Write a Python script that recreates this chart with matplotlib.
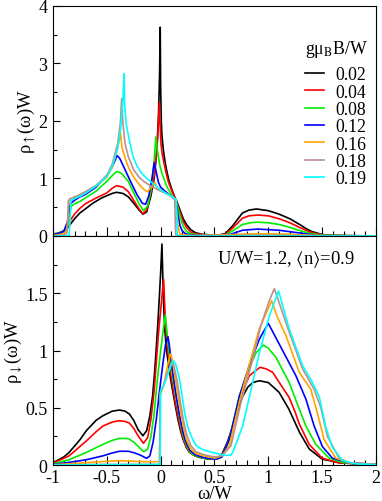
import matplotlib
matplotlib.use("Agg")
import matplotlib.pyplot as plt
from matplotlib.ticker import MultipleLocator, FuncFormatter

plt.rcParams['font.family'] = ['Liberation Serif', 'DejaVu Serif']
plt.rcParams['mathtext.fontset'] = 'stix'
plt.rcParams['axes.unicode_minus'] = False
plt.rcParams['font.size'] = 13

# field values (g mu_B B / W) and colours
fields = ['0.02', '0.04', '0.08', '0.12', '0.16', '0.18', '0.19']
colors = ['#000000', '#ff0000', '#00ee00', '#0000ff', '#ffa500', '#bc8f8f', '#00ffff']

# ---- spin up DOS (top panel) ----
up_002_w = [-1.0, -0.95, -0.9, -0.86, -0.84, -0.8, -0.75, -0.7, -0.63, -0.55, -0.5, -0.45, -0.41, -0.35, -0.3,
            -0.25, -0.2, -0.164, -0.13, -0.09, -0.06, -0.035, -0.02, -0.01, -0.004, 0.0, 0.006, 0.012, 0.025,
            0.04, 0.055, 0.075, 0.1, 0.13, 0.15, 0.17, 0.19, 0.21, 0.24, 0.28, 0.32, 0.38, 0.45, 0.55, 0.6,
            0.67, 0.76, 0.82, 0.89, 1.0, 1.1, 1.2, 1.3, 1.35, 1.4, 1.5, 1.6, 1.8, 2.0]
up_002_rho = [0.035, 0.05, 0.09, 0.15, 0.2, 0.3, 0.4, 0.47, 0.57, 0.66, 0.7, 0.74, 0.76, 0.74, 0.68,
              0.57, 0.45, 0.38, 0.42, 0.7, 1.0, 1.5, 2.1, 2.8, 3.63, 2.6, 2.0, 1.75, 1.5,
              1.3, 1.15, 0.98, 0.83, 0.68, 0.6, 0.5, 0.4, 0.3, 0.2, 0.11, 0.06, 0.03, 0.02, 0.02, 0.04,
              0.18, 0.4, 0.45, 0.47, 0.44, 0.38, 0.3, 0.19, 0.13, 0.08, 0.025, 0.012, 0.005, 0.0]

up_004_w = [-1.0, -0.95, -0.9, -0.86, -0.84, -0.8, -0.75, -0.7, -0.6, -0.5, -0.45, -0.41, -0.35, -0.3, -0.25,
            -0.2, -0.165, -0.13, -0.09, -0.06, -0.04, -0.025, -0.012, -0.005, 0.003, 0.015, 0.03, 0.05, 0.07,
            0.1, 0.13, 0.15, 0.17, 0.19, 0.21, 0.24, 0.28, 0.32, 0.4, 0.55, 0.6, 0.67, 0.76, 0.82, 0.9, 1.0,
            1.1, 1.2, 1.3, 1.4, 1.5, 1.7, 2.0]
up_004_rho = [0.025, 0.04, 0.08, 0.17, 0.27, 0.38, 0.48, 0.56, 0.66, 0.75, 0.83, 0.875, 0.85, 0.77, 0.62,
              0.47, 0.39, 0.45, 0.75, 1.05, 1.4, 1.8, 2.32, 1.95, 1.6, 1.42, 1.28, 1.1, 0.95,
              0.8, 0.67, 0.58, 0.46, 0.36, 0.25, 0.15, 0.07, 0.04, 0.02, 0.02, 0.03, 0.14, 0.31, 0.35, 0.365, 0.35,
              0.3, 0.23, 0.14, 0.06, 0.02, 0.005, 0.0]

up_008_w = [-1.0, -0.95, -0.9, -0.86, -0.845, -0.83, -0.8, -0.75, -0.7, -0.6, -0.5, -0.45, -0.41, -0.37, -0.3,
            -0.25, -0.2, -0.16, -0.12, -0.09, -0.06, -0.045, -0.03, -0.01, 0.01, 0.03, 0.06, 0.1, 0.13, 0.15,
            0.17, 0.19, 0.21, 0.24, 0.28, 0.35, 0.55, 0.6, 0.67, 0.76, 0.85, 0.9, 1.0, 1.1, 1.2, 1.3, 1.4, 1.5,
            1.7, 2.0]
up_008_rho = [0.02, 0.04, 0.08, 0.2, 0.4, 0.52, 0.56, 0.6, 0.66, 0.78, 0.95, 1.05, 1.12, 1.1, 0.95,
              0.75, 0.56, 0.44, 0.52, 0.8, 1.3, 1.72, 1.5, 1.25, 1.1, 1.0, 0.85, 0.72, 0.65, 0.55,
              0.42, 0.28, 0.17, 0.08, 0.04, 0.02, 0.015, 0.02, 0.09, 0.2, 0.235, 0.24, 0.23, 0.2, 0.15, 0.09, 0.04,
              0.015, 0.005, 0.0]

up_012_w = [-1.0, -0.95, -0.9, -0.865, -0.85, -0.84, -0.8, -0.75, -0.7, -0.6, -0.5, -0.45, -0.42, -0.405,
            -0.38, -0.33, -0.28, -0.22, -0.17, -0.14, -0.11, -0.08, -0.06, -0.045, -0.02, 0.0, 0.04, 0.1, 0.13,
            0.15, 0.165, 0.18, 0.2, 0.23, 0.28, 0.4, 0.55, 0.65, 0.76, 0.9, 1.1, 1.3, 1.45, 1.6, 2.0]
up_012_rho = [0.02, 0.04, 0.08, 0.25, 0.45, 0.56, 0.62, 0.68, 0.72, 0.85, 1.05, 1.2, 1.33, 1.4,
              1.35, 1.15, 0.95, 0.72, 0.57, 0.55, 0.7, 1.0, 1.28, 1.15, 0.93, 0.85, 0.78, 0.69, 0.64,
              0.5, 0.33, 0.18, 0.09, 0.04, 0.02, 0.015, 0.012, 0.03, 0.1, 0.12, 0.1, 0.05, 0.01, 0.003, 0.0]

up_016_w = [-1.0, -0.95, -0.9, -0.87, -0.86, -0.855, -0.84, -0.8, -0.75, -0.7, -0.6, -0.5, -0.45, -0.41,
            -0.385, -0.373, -0.36, -0.33, -0.3, -0.25, -0.2, -0.15, -0.12, -0.08, -0.055, -0.03, 0.0, 0.05,
            0.1, 0.13, 0.145, 0.16, 0.175, 0.2, 0.3, 0.6, 0.9, 1.2, 1.5, 2.0]
up_016_rho = [0.01, 0.02, 0.04, 0.1, 0.35, 0.6, 0.64, 0.67, 0.71, 0.76, 0.87, 1.02, 1.2, 1.45,
              1.65, 1.8, 1.55, 1.35, 1.2, 1.02, 0.9, 0.8, 0.77, 0.87, 0.93, 0.85, 0.8, 0.74,
              0.69, 0.65, 0.5, 0.2, 0.05, 0.02, 0.01, 0.02, 0.04, 0.03, 0.005, 0.0]

up_018_w = [-1.0, -0.9, -0.87, -0.86, -0.855, -0.84, -0.8, -0.75, -0.7, -0.6, -0.5, -0.45, -0.4, -0.375,
            -0.362, -0.35, -0.33, -0.3, -0.25, -0.2, -0.15, -0.1, -0.05, 0.0, 0.05, 0.1, 0.13, 0.135, 0.14,
            0.2, 0.6, 0.9, 1.2, 2.0]
up_018_rho = [0.005, 0.015, 0.05, 0.4, 0.62, 0.65, 0.68, 0.72, 0.77, 0.88, 1.05, 1.25, 1.6, 1.95,
              2.39, 1.95, 1.6, 1.38, 1.15, 1.02, 0.94, 0.88, 0.83, 0.78, 0.74, 0.7, 0.66, 0.3, 0.02,
              0.005, 0.01, 0.015, 0.01, 0.0]

up_019_w = [-1.0, -0.85, -0.84, -0.835, -0.8, -0.75, -0.7, -0.6, -0.5, -0.45, -0.4, -0.37, -0.35, -0.34,
            -0.335, -0.32, -0.3, -0.26, -0.22, -0.18, -0.14, -0.1, -0.05, 0.0, 0.05, 0.1, 0.145, 0.15, 0.153, 2.0]
up_019_rho = [0.0, 0.005, 0.3, 0.62, 0.65, 0.69, 0.74, 0.87, 1.03, 1.22, 1.52, 1.9, 2.4, 2.82,
              2.3, 1.95, 1.75, 1.4, 1.22, 1.1, 1.02, 0.96, 0.88, 0.8, 0.74, 0.69, 0.63, 0.3, 0.0, 0.0]

# ---- spin down DOS (bottom panel) ----
dn_002_w = [-1.0, -0.9, -0.85, -0.75, -0.69, -0.6, -0.537, -0.45, -0.383, -0.33, -0.29, -0.25, -0.21, -0.165,
            -0.13, -0.1, -0.075, -0.056, -0.04, -0.025, -0.01, 0.0, 0.012, 0.02, 0.028, 0.04, 0.053, 0.07,
            0.083, 0.1, 0.114, 0.14, 0.16, 0.185, 0.207, 0.24, 0.27, 0.32, 0.361, 0.42, 0.5, 0.55, 0.577,
            0.62, 0.67, 0.72, 0.762, 0.81, 0.855, 0.917, 1.0, 1.1, 1.19, 1.29, 1.38, 1.5, 1.66, 1.81, 2.0]
dn_002_rho = [0.02, 0.07, 0.11, 0.22, 0.3, 0.39, 0.43, 0.47, 0.48, 0.47, 0.445, 0.39, 0.31, 0.255,
              0.3, 0.43, 0.6, 0.81, 1.03, 1.25, 1.5, 1.68, 1.93, 1.65, 1.39, 1.17, 1.01, 0.9,
              0.81, 0.71, 0.635, 0.5, 0.4, 0.3, 0.227, 0.15, 0.11, 0.08, 0.067, 0.055, 0.05, 0.06, 0.11,
              0.2, 0.34, 0.49, 0.6, 0.68, 0.72, 0.736, 0.72, 0.635, 0.49, 0.285, 0.14, 0.052, 0.02, 0.01, 0.005]

dn_004_w = [-1.0, -0.85, -0.69, -0.6, -0.537, -0.45, -0.383, -0.33, -0.29, -0.25, -0.21, -0.16, -0.12, -0.09,
            -0.06, -0.04, -0.02, 0.0, 0.015, 0.028, 0.035, 0.045, 0.06, 0.075, 0.09, 0.11, 0.13, 0.16, 0.19,
            0.22, 0.26, 0.3, 0.36, 0.45, 0.52, 0.57, 0.639, 0.731, 0.824, 0.923, 0.98, 1.04, 1.13, 1.194, 1.25,
            1.287, 1.38, 1.5, 1.65, 2.0]
dn_004_rho = [0.015, 0.08, 0.21, 0.29, 0.34, 0.375, 0.387, 0.38, 0.365, 0.32, 0.256, 0.19, 0.24, 0.4,
              0.65, 0.9, 1.15, 1.35, 1.5, 1.62, 1.45, 1.25, 1.05, 0.93, 0.82, 0.7, 0.58, 0.43, 0.3,
              0.2, 0.12, 0.09, 0.07, 0.055, 0.05, 0.08, 0.227, 0.576, 0.78, 0.853, 0.84, 0.81, 0.68, 0.59, 0.46,
              0.36, 0.18, 0.06, 0.02, 0.005]

dn_008_w = [-1.0, -0.85, -0.69, -0.537, -0.45, -0.383, -0.3, -0.25, -0.2, -0.157, -0.12, -0.09, -0.06, -0.03,
            0.0, 0.02, 0.043, 0.055, 0.07, 0.09, 0.11, 0.13, 0.16, 0.19, 0.22, 0.26, 0.3, 0.4, 0.5, 0.57,
            0.639, 0.731, 0.824, 0.886, 0.954, 1.0, 1.071, 1.194, 1.287, 1.349, 1.441, 1.565, 1.7, 2.0]
dn_008_rho = [0.01, 0.046, 0.11, 0.18, 0.215, 0.233, 0.23, 0.2, 0.155, 0.116, 0.14, 0.25, 0.45, 0.75,
              1.0, 1.15, 1.31, 1.2, 1.05, 0.9, 0.78, 0.66, 0.5, 0.34, 0.22, 0.13, 0.09, 0.06, 0.05, 0.07,
              0.227, 0.6, 0.853, 0.98, 1.048, 1.02, 0.94, 0.72, 0.49, 0.34, 0.18, 0.06, 0.02, 0.005]

dn_012_w = [-1.0, -0.85, -0.69, -0.537, -0.45, -0.383, -0.3, -0.24, -0.19, -0.13, -0.1, -0.07, -0.04, -0.01,
            0.02, 0.045, 0.068, 0.08, 0.1, 0.12, 0.14, 0.17, 0.2, 0.23, 0.27, 0.32, 0.4, 0.5, 0.57, 0.639,
            0.731, 0.824, 0.917, 1.0, 1.133, 1.256, 1.349, 1.426, 1.503, 1.595, 1.75, 2.0]
dn_012_rho = [0.005, 0.023, 0.046, 0.08, 0.105, 0.12, 0.12, 0.105, 0.087, 0.058, 0.08, 0.2, 0.4, 0.65,
              0.88, 1.05, 1.12, 1.05, 0.9, 0.76, 0.63, 0.46, 0.32, 0.21, 0.13, 0.09, 0.065, 0.05, 0.07, 0.227,
              0.6, 0.87, 1.1, 1.237, 1.0, 0.78, 0.576, 0.34, 0.16, 0.06, 0.02, 0.005]

dn_016_w = [-1.0, -0.85, -0.69, -0.537, -0.4, -0.3, -0.2, -0.1, -0.01, -0.005, 0.0, 0.03, 0.06, 0.08, 0.09,
            0.1, 0.12, 0.15, 0.18, 0.21, 0.24, 0.28, 0.33, 0.4, 0.5, 0.57, 0.639, 0.731, 0.824, 0.917, 1.031,
            1.08, 1.164, 1.287, 1.395, 1.457, 1.519, 1.627, 1.75, 2.0]
dn_016_rho = [0.003, 0.01, 0.02, 0.03, 0.038, 0.035, 0.03, 0.028, 0.03, 0.6, 0.62, 0.7, 0.85, 0.93, 0.97,
              0.95, 0.85, 0.68, 0.5, 0.34, 0.22, 0.14, 0.1, 0.08, 0.06, 0.08, 0.17, 0.55, 0.88, 1.19, 1.435,
              1.3, 1.13, 0.81, 0.66, 0.45, 0.22, 0.06, 0.02, 0.005]

dn_018_w = [-1.0, -0.5, -0.01, -0.005, 0.03, 0.06, 0.09, 0.105, 0.12, 0.15, 0.18, 0.21, 0.24, 0.28, 0.33,
            0.4, 0.5, 0.57, 0.654, 0.747, 0.84, 0.932, 1.009, 1.056, 1.1, 1.194, 1.318, 1.426, 1.488, 1.549,
            1.657, 1.75, 2.0]
dn_018_rho = [0.002, 0.005, 0.005, 0.63, 0.7, 0.8, 0.87, 0.9, 0.88, 0.75, 0.57, 0.4, 0.27, 0.17, 0.115,
              0.09, 0.07, 0.08, 0.17, 0.55, 0.87, 1.22, 1.435, 1.54, 1.42, 1.16, 0.84, 0.66, 0.5, 0.25,
              0.06, 0.02, 0.005]

dn_019_w = [-1.0, -0.5, -0.005, 0.0, 0.02, 0.04, 0.07, 0.1, 0.12, 0.14, 0.176, 0.2, 0.222, 0.25, 0.27, 0.3,
            0.33, 0.38, 0.423, 0.5, 0.546, 0.6, 0.65, 0.67, 0.762, 0.84, 0.917, 1.009, 1.095, 1.194, 1.318,
            1.41, 1.472, 1.534, 1.595, 1.688, 1.812, 2.0]
dn_019_rho = [0.0, 0.003, 0.005, 0.65, 0.68, 0.72, 0.8, 0.88, 0.91, 0.88, 0.75, 0.6, 0.46, 0.34, 0.285, 0.22,
              0.17, 0.14, 0.125, 0.105, 0.096, 0.085, 0.085, 0.11, 0.34, 0.66, 0.98, 1.3, 1.52, 1.19, 0.87,
              0.72, 0.6, 0.33, 0.155, 0.04, 0.01, 0.003]

up_curves = [(up_002_w, up_002_rho), (up_004_w, up_004_rho), (up_008_w, up_008_rho), (up_012_w, up_012_rho),
             (up_016_w, up_016_rho), (up_018_w, up_018_rho), (up_019_w, up_019_rho)]
dn_curves = [(dn_002_w, dn_002_rho), (dn_004_w, dn_004_rho), (dn_008_w, dn_008_rho), (dn_012_w, dn_012_rho),
             (dn_016_w, dn_016_rho), (dn_018_w, dn_018_rho), (dn_019_w, dn_019_rho)]

fig = plt.figure(figsize=(3.82, 5.02), dpi=100)
ax1 = fig.add_axes([0.1387, 0.5279, 0.8455, 0.4582])
ax2 = fig.add_axes([0.1387, 0.0717, 0.8455, 0.4562])

for (w, rho), c, lab in zip(up_curves, colors, fields):
    ax1.plot(w, rho, color=c, lw=1.2, label=lab)
for (w, rho), c in zip(dn_curves, colors):
    ax2.plot(w, rho, color=c, lw=1.2)

fmt = FuncFormatter(lambda v, p: '%g' % v)
for ax in (ax1, ax2):
    ax.set_xlim(-1, 2)
    ax.xaxis.set_major_locator(MultipleLocator(0.5))
    ax.xaxis.set_minor_locator(MultipleLocator(0.1))
    ax.xaxis.set_major_formatter(fmt)
    ax.yaxis.set_major_formatter(fmt)
    ax.tick_params(which='both', direction='in', top=False, right=False, width=0.8, labelsize=13)
    ax.tick_params(axis='x', which='major', length=6.5, pad=3)
    ax.tick_params(axis='x', which='minor', length=3.5)
    ax.tick_params(axis='y', which='major', length=5, pad=4)
    ax.tick_params(axis='y', which='minor', length=3)
    for s in ax.spines.values():
        s.set_linewidth(0.8)

ax1.set_ylim(0, 4)
ax1.yaxis.set_major_locator(MultipleLocator(1))
ax1.yaxis.set_minor_locator(MultipleLocator(0.5))
ax1.tick_params(axis='x', labelbottom=False)
ax1.set_ylabel('ρ$_{\\uparrow}$(ω)W', fontsize=13.3, labelpad=1)

ax2.set_ylim(0, 2)
ax2.set_yticks([0, 0.5, 1, 1.5])
ax2.yaxis.set_minor_locator(MultipleLocator(0.25))
ax2.set_ylabel('ρ$_{\\downarrow}$(ω)W', fontsize=13.3, labelpad=1)
ax2.set_xlabel('ω/W', fontsize=13.3, labelpad=-1)

# legend title as its own text, entries below it
ax1.text(0.78, 0.813, 'gμ$_\\mathrm{B}$B/W', transform=ax1.transAxes, ha='left', va='center', fontsize=12.8)
ax1.legend(loc='upper left', bbox_to_anchor=(0.78, 0.738),
           frameon=False, handlelength=1.1, handletextpad=0.6, labelspacing=0.02,
           borderpad=0, borderaxespad=0, fontsize=12.8)

ax2.text(0.508, 0.90, 'U/W=1.2, $\\langle$n$\\rangle$=0.9', transform=ax2.transAxes,
         ha='left', va='center', fontsize=13.3)

fig.savefig('out.png', dpi=100)
